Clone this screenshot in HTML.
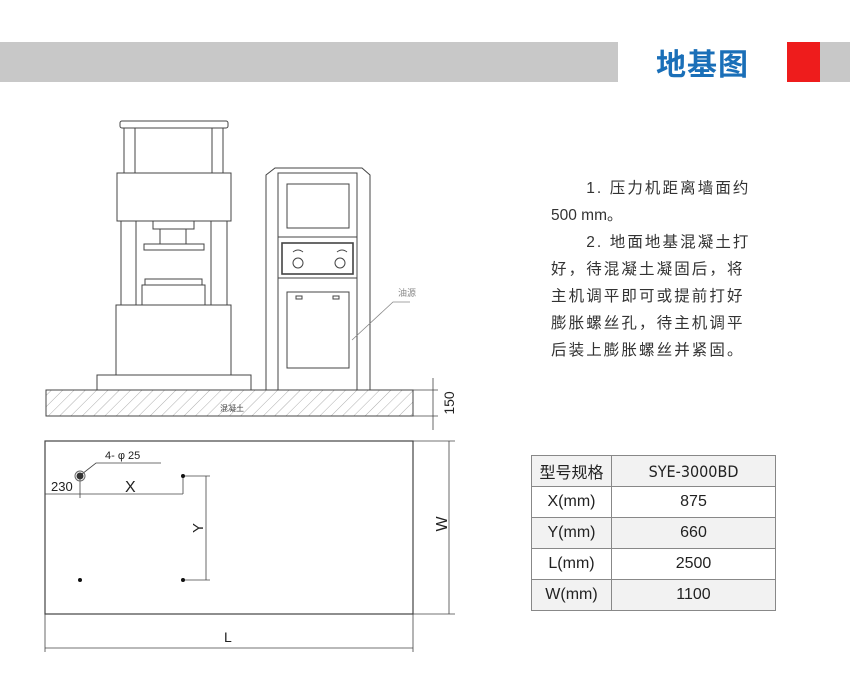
<!DOCTYPE html>
<html><head><meta charset="utf-8"><style>
html,body{margin:0;padding:0;background:#fff;}
body{width:850px;height:700px;position:relative;overflow:hidden;font-family:"Liberation Sans","Noto Sans CJK SC",sans-serif;}
.bar{position:absolute;top:42px;height:40px;background:#c8c8c8;}
.title{position:absolute;left:656px;top:42px;font-size:30px;line-height:40px;color:#1a6fb8;font-family:"Noto Sans CJK SC",sans-serif;font-weight:bold;letter-spacing:1px;}
.t{position:absolute;left:551px;font-size:15.5px;color:#333;white-space:nowrap;font-family:"Liberation Sans","Noto Sans CJK SC",sans-serif;letter-spacing:2.1px;}
table{position:absolute;left:531px;top:455px;border-collapse:collapse;width:245px;font-size:16px;color:#222;}
td{border:1px solid #888;height:30px;text-align:center;padding:0;}
tr.g td{background:#f2f2f2;}
</style></head><body>
<div class="bar" style="left:0;width:618px"></div>
<div class="title">地基图</div>
<div class="bar" style="left:787px;width:33px;background:#ee1c1c"></div>
<div class="bar" style="left:820px;width:30px"></div>

<div class="t" style="top:176px">　　1. 压力机距离墙面约</div>
<div class="t" style="top:203px;letter-spacing:0">500 mm。</div>
<div class="t" style="top:230px">　　2. 地面地基混凝土打</div>
<div class="t" style="top:257px">好，待混凝土凝固后，将</div>
<div class="t" style="top:284px">主机调平即可或提前打好</div>
<div class="t" style="top:311px">膨胀螺丝孔，待主机调平</div>
<div class="t" style="top:338px">后装上膨胀螺丝并紧固。</div>

<table>
<tr class="g" style="background:#f6f6f6"><td style="width:79px">型号规格</td><td style="font-family:'DejaVu Sans Condensed','Liberation Sans',sans-serif">SYE-3000BD</td></tr>
<tr><td>X(mm)</td><td>875</td></tr>
<tr class="g"><td>Y(mm)</td><td>660</td></tr>
<tr><td>L(mm)</td><td>2500</td></tr>
<tr class="g"><td>W(mm)</td><td>1100</td></tr>
</table>

<svg width="850" height="700" style="position:absolute;left:0;top:0" xmlns="http://www.w3.org/2000/svg">
<defs>
<pattern id="h" width="8" height="8" patternUnits="userSpaceOnUse" patternTransform="rotate(45)"><line x1="0" y1="0" x2="0" y2="8" stroke="#999" stroke-width="0.8"/></pattern>
</defs>
<g fill="none" stroke="#444" stroke-width="1">
<rect x="120" y="121" width="108" height="7" rx="2"/>
<rect x="124" y="128" width="11" height="45"/><rect x="212" y="128" width="11" height="45"/>
<rect x="117" y="173" width="114" height="48"/>
<rect x="121" y="221" width="15" height="84"/><rect x="211" y="221" width="16" height="84"/>
<rect x="153" y="221" width="41" height="8"/>
<rect x="160" y="229" width="26" height="15"/>
<rect x="144" y="244" width="60" height="6"/>
<rect x="145" y="279" width="57" height="6"/>
<rect x="142" y="285" width="63" height="20"/>
<rect x="116" y="305" width="115" height="70"/>
<rect x="97" y="375" width="154" height="15"/>
<path d="M266 390 V175 L275 168 H362 L370 175 V390 Z"/>
<rect x="278" y="173" width="79" height="217"/>
<rect x="287" y="184" width="62" height="44"/>
<line x1="278" y1="237" x2="357" y2="237"/>
<rect x="282" y="243" width="71" height="31" stroke-width="1.6"/>
<line x1="278" y1="278" x2="357" y2="278"/>
<circle cx="298" cy="263" r="5"/><circle cx="340" cy="263" r="5"/>
<path d="M293 252 q5 -4 10 0 M337 252 q5 -4 10 0"/>
<rect x="287" y="292" width="62" height="76"/>
<rect x="296" y="296" width="6" height="3"/><rect x="333" y="296" width="6" height="3"/>
<rect x="46" y="390" width="367" height="26" fill="url(#h)"/>
</g>
<text x="220" y="411" font-size="8" fill="#444" font-family="Noto Sans CJK SC,sans-serif">混凝土</text>
<g stroke="#888" stroke-width="0.8" fill="none">
<path d="M352 340 L393 302 H410"/>
</g>
<text x="398" y="296" font-size="9" fill="#888" font-family="Noto Sans CJK SC,sans-serif">油源</text>
<g stroke="#444" stroke-width="0.8">
<line x1="413" y1="390" x2="438" y2="390"/><line x1="413" y1="416" x2="438" y2="416"/>
<line x1="433" y1="378" x2="433" y2="430"/>
</g>
<text transform="translate(454,403) rotate(-90)" font-size="14" text-anchor="middle" fill="#222">150</text>

<rect x="45" y="441" width="368" height="173" fill="none" stroke="#444" stroke-width="1.2"/>
<g stroke="#444" stroke-width="0.8" fill="none">
<path d="M82 474 L96 463 H161"/>
<line x1="45" y1="494" x2="183" y2="494"/>
<line x1="80" y1="478" x2="80" y2="498"/>
<line x1="183" y1="476" x2="183" y2="494"/>
<line x1="183" y1="476" x2="210" y2="476"/><line x1="183" y1="580" x2="210" y2="580"/>
<line x1="206" y1="476" x2="206" y2="580"/>
<line x1="413" y1="441" x2="455" y2="441"/><line x1="413" y1="614" x2="455" y2="614"/>
<line x1="449" y1="441" x2="449" y2="614"/>
<line x1="45" y1="614" x2="45" y2="652"/><line x1="413" y1="614" x2="413" y2="652"/>
<line x1="45" y1="648" x2="413" y2="648"/>
</g>
<circle cx="80" cy="476" r="3.5" fill="#333"/><circle cx="80" cy="476" r="5" fill="none" stroke="#666"/>
<circle cx="183" cy="476" r="2" fill="#111"/><circle cx="80" cy="580" r="2" fill="#111"/><circle cx="183" cy="580" r="2" fill="#111"/>
<text x="105" y="459" font-size="11" fill="#222">4- φ 25</text>
<text x="51" y="491" font-size="13" fill="#222">230</text>
<text x="125" y="492" font-size="16" fill="#222">X</text>
<text transform="translate(203,528) rotate(-90)" font-size="15" text-anchor="middle" fill="#222">Y</text>
<text transform="translate(447,524) rotate(-90)" font-size="16" text-anchor="middle" fill="#222">W</text>
<text x="224" y="642" font-size="14" fill="#222">L</text>
</svg>
</body></html>
